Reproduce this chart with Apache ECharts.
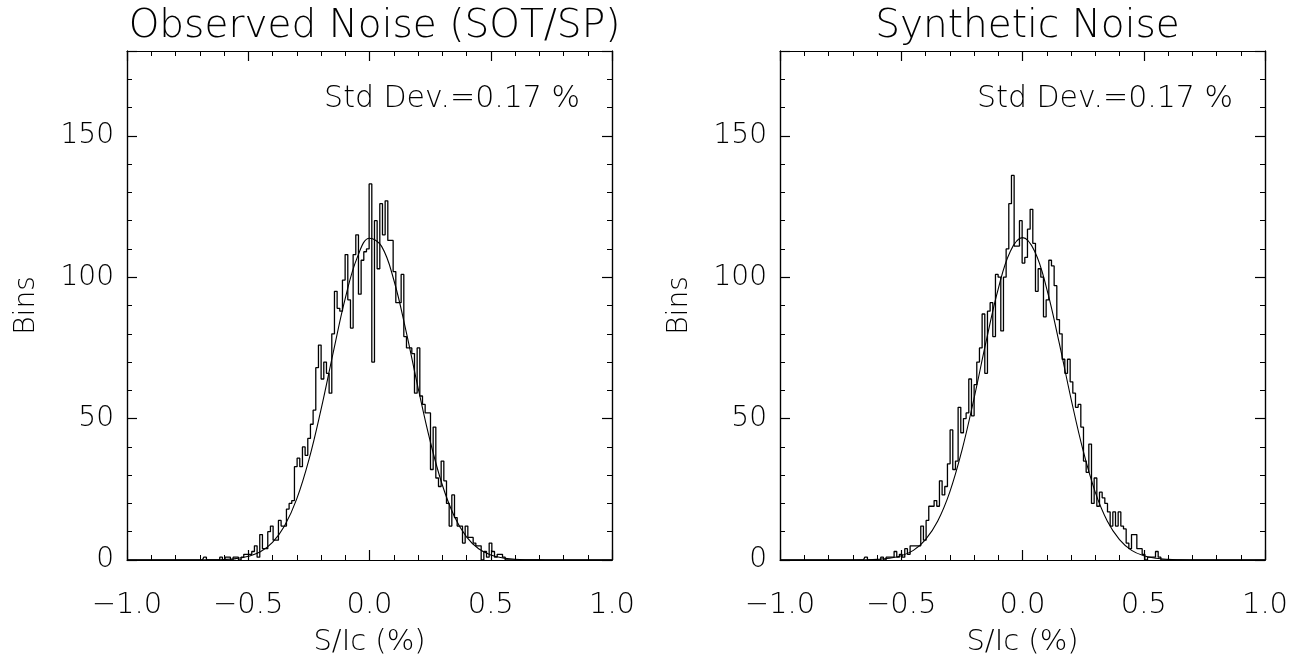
<!DOCTYPE html>
<html><head><meta charset="utf-8">
<script src="https://cdn.jsdelivr.net/npm/echarts@6.0.0/dist/echarts.min.js"></script>
<style>html,body{margin:0;padding:0;background:#fff}#c{width:1304px;height:656px}</style>
</head><body><div id="c"></div>
<script>
// ---- data ----
const binStart = -0.7;
const binWidth = 0.011;
const observedCounts = [0,0,1,0,0,0,0,0,1,0,1,1,0,1,1,0,1,2,2,2,3,5,1,9,4,4,10,12,7,7,14,12,12,18,20,21,33,36,33,40,37,43,48,53,68,76,64,70,66,59,80,95,89,88,99,108,92,82,108,115,94,106,109,110,133,70,120,103,126,115,127,113,113,102,91,91,101,79,75,75,73,59,75,58,55,52,52,32,47,29,26,35,28,20,12,23,15,12,12,6,12,8,8,6,5,5,0,3,1,6,3,1,2,2,1,0];
const syntheticCounts = [0,0,0,0,0,1,0,0,0,0,0,1,0,1,1,1,3,1,2,1,4,2,5,5,5,5,12,7,14,19,19,21,19,28,23,26,34,46,32,35,54,45,50,52,64,51,62,70,75,87,66,88,91,79,101,100,81,100,110,126,136,111,111,120,105,107,117,124,112,95,103,100,86,92,106,104,97,85,80,71,66,71,63,59,54,55,47,35,31,41,20,29,19,24,22,20,17,12,17,12,17,12,11,6,4,9,9,4,4,2,0,1,1,1,3,1,0];
const fitX = [-1,-0.9,-0.8,-0.75,-0.7,-0.65,-0.6,-0.55,-0.5,-0.45,-0.4,-0.35,-0.3,-0.25,-0.2,-0.15,-0.1,-0.05,0,0.05,0.1,0.15,0.2,0.25,0.3,0.35,0.4,0.45,0.5,0.55,0.6,0.65,0.7,0.75,0.8,0.9,1];
const observedFit = [0,0,0,0,0.02,0.06,0.18,0.5,1.3,2.9,6.2,12.1,21.6,35.4,53.2,73.2,92.5,107.1,113.8,110.9,99.1,81.2,61.0,42.1,26.6,15.4,8.2,4.0,1.8,0.73,0.28,0.09,0.03,0,0,0,0];
const syntheticFit = [0,0,0,0,0.02,0.08,0.22,0.61,1.5,3.4,7.2,13.7,24.0,38.7,57.1,77.3,95.9,109.2,114.0,109.2,95.9,77.3,57.1,38.7,24.0,13.7,7.2,3.4,1.5,0.61,0.22,0.08,0.02,0,0,0,0];
const panelTitles = ['Observed Noise (SOT/SP)', 'Synthetic Noise'];
const stdDevLabels = ['Std Dev.=0.17 %', 'Std Dev.=0.17 %'];
const xAxisName = 'S/Ic (%)';
const yAxisName = 'Bins';
const xRange = [-1, 1];
const yRange = [0, 180];
const xMajor = 0.5;
const yMajor = 50;
const yMinor = 10;

// ---- build ----
const FONT = 'DejaVu Sans';
const FW = 200;
const grids = [
  {left:127, top:51, width:485, height:509},
  {left:780, top:51, width:485, height:509}
];
function histData(counts){
  const d = [[xRange[0],0]];
  counts.forEach((c,i)=>d.push([+(binStart+i*binWidth).toFixed(4), c]));
  d.push([xRange[1],0]);
  return d;
}
function fitData(vals){ return fitX.map((x,i)=>[x, vals[i]]); }
const lineC = {color:'#000', width:1.2};
const xAxes = [], yAxes = [];
grids.forEach((g,gi)=>{
  const base = {gridIndex:gi, type:'value', min:xRange[0], max:xRange[1], interval:xMajor,
    splitLine:{show:false}, minorSplitLine:{show:false},
    axisLine:{show:true, onZero:false, lineStyle:lineC},
    axisTick:{show:true, inside:true, length:10, lineStyle:lineC},
    minorTick:{show:true, splitNumber:5, length:5, lineStyle:{color:'#000', width:1}}};
  xAxes.push(Object.assign({}, base, {position:'bottom',
    axisLabel:{show:true, color:'#000', fontSize:29, fontFamily:FONT, fontWeight:FW, margin:31,
      formatter:v=>(v<0?'\u2212':'')+Math.abs(v).toFixed(1)},
    name:xAxisName, nameLocation:'middle', nameGap:68,
    nameTextStyle:{color:'#000', fontSize:29, fontFamily:FONT, fontWeight:FW}}));
  xAxes.push(Object.assign({}, base, {position:'top', axisLabel:{show:false}}));
  const yb = {gridIndex:gi, type:'value', min:yRange[0], max:yRange[1],
    splitLine:{show:false}, axisLine:{show:true, onZero:false, lineStyle:lineC}};
  yAxes.push(Object.assign({}, yb, {position:'left', interval:yMinor,
    axisTick:{show:true, inside:true, length:5, lineStyle:{color:'#000', width:1}},
    axisLabel:{show:true, color:'#000', fontSize:28, fontFamily:FONT, fontWeight:FW, margin:13,
      formatter:v=>(v%yMajor===0 && v<yRange[1]) ? String(v) : ''},
    name:yAxisName, nameLocation:'middle', nameGap:86, nameRotate:90,
    nameTextStyle:{color:'#000', fontSize:28, fontFamily:FONT, fontWeight:FW}}));
  yAxes.push(Object.assign({}, yb, {position:'left', interval:yMajor,
    axisTick:{show:true, inside:true, length:10, lineStyle:lineC}, axisLabel:{show:false}}));
  yAxes.push(Object.assign({}, yb, {position:'right', interval:yMinor,
    axisTick:{show:true, inside:true, length:5, lineStyle:{color:'#000', width:1}}, axisLabel:{show:false}}));
  yAxes.push(Object.assign({}, yb, {position:'right', interval:yMajor,
    axisTick:{show:true, inside:true, length:10, lineStyle:lineC}, axisLabel:{show:false}}));
});
const countsList = [observedCounts, syntheticCounts];
const fitList = [observedFit, syntheticFit];
const series = [];
grids.forEach((g,gi)=>{
  series.push({type:'line', xAxisIndex:gi*2, yAxisIndex:gi*4, data:histData(countsList[gi]),
    step:'middle', showSymbol:false, symbol:'none', silent:true, animation:false,
    lineStyle:{color:'#000', width:1.3}, z:3});
  series.push({type:'line', xAxisIndex:gi*2, yAxisIndex:gi*4, data:fitData(fitList[gi]),
    smooth:0.4, showSymbol:false, symbol:'none', silent:true, animation:false,
    lineStyle:{color:'#000', width:1.1}, z:4});
});
const titles = grids.map((g,gi)=>({text:panelTitles[gi], left:g.left+g.width/2, top:2, textAlign:'center',
  textStyle:{color:'#000', fontSize:39, fontFamily:FONT, fontWeight:FW}}));
const graphics = grids.map((g,gi)=>({type:'text', x:g.left+g.width-32, y:99,
  style:{text:stdDevLabels[gi], fill:'#000', font:FW+' 30px "'+FONT+'"', textAlign:'right', textVerticalAlign:'middle'}}));
const chart = echarts.init(document.getElementById('c'), null, {renderer:'canvas'});
chart.setOption({
  backgroundColor:'#fff', animation:false,
  title:titles,
  grid:grids.map(g=>Object.assign({containLabel:false, outerBoundsMode:'none'}, g)),
  xAxis:xAxes, yAxis:yAxes, series:series, graphic:graphics
});
</script></body></html>
